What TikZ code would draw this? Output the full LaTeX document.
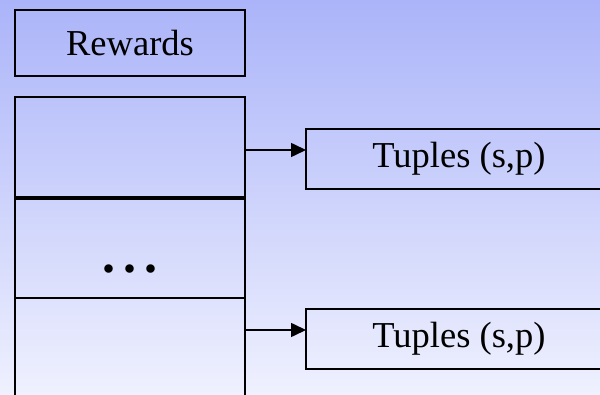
\documentclass[tikz,border=0pt]{standalone}
\usepackage{fontspec}
\setmainfont{Liberation Serif}
\usetikzlibrary{arrows.meta}
\definecolor{bgtop}{RGB}{171,180,249}
\definecolor{bgbot}{RGB}{239,241,254}
\begin{document}
\begin{tikzpicture}[x=1pt,y=-1pt,
  box/.style={draw=black,line width=1.6pt,rectangle,inner sep=0pt,outer sep=0pt,
    font=\fontsize{36.5}{40}\selectfont},
  arr/.style={line width=1.6pt,-{Triangle[length=15pt,width=14pt]}}]
\useasboundingbox (0,0) rectangle (600,395);
\clip (0,0) rectangle (600,395);
\shade[top color=bgtop,bottom color=bgbot] (0,0) rectangle (600,395);
\node[box,minimum width=230pt,minimum height=66pt] (rw) at (130,43) {Rewards};
\node[box,minimum width=230pt,minimum height=100pt] (s1) at (130,147) {};
\node[box,minimum width=230pt,minimum height=99pt] (s2) at (130,248.5) {};
\node[box,minimum width=230pt,minimum height=112pt] (s3) at (130,354) {};
\node[font=\bfseries\fontsize{52}{54}\selectfont,inner sep=0pt,anchor=base] (dots) at (130,272.6) {.\kern8pt.\kern8pt.};
\node[box,minimum width=306pt,minimum height=60pt] (t1) at (459,159) {Tuples (s,p)};
\node[box,minimum width=306pt,minimum height=60pt] (t2) at (459,339) {Tuples (s,p)};
\coordinate (a1) at (0,150);
\coordinate (a2) at (0,330);
\draw[arr] (s1.east |- a1) -- (t1.west |- a1);
\draw[arr] (s3.east |- a2) -- (t2.west |- a2);
\end{tikzpicture}
\end{document}
